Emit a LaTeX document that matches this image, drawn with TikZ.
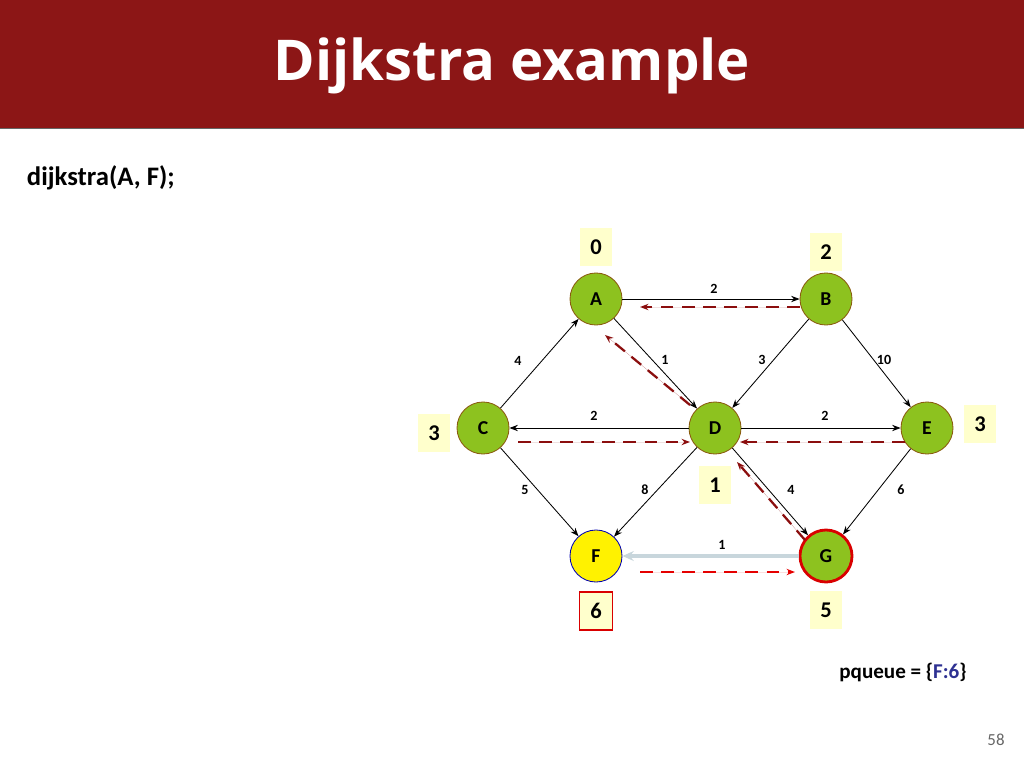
\documentclass[tikz,border=0pt]{standalone}
\usepackage{fontspec}
\setmainfont{Carlito}
\newfontfamily\titlefont{Open Sans}
\usetikzlibrary{arrows.meta,positioning}
\definecolor{barred}{HTML}{8C1616}
\definecolor{vgreen}{HTML}{8DC21F}
\definecolor{vborder}{HTML}{8A5A10}
\definecolor{distbg}{HTML}{FFFFCC}
\definecolor{pathred}{HTML}{8B0E0E}
\definecolor{qblue}{HTML}{2E3192}
\tikzset{>={Stealth[length=6pt,width=4.5pt]},
  vertex/.style={circle,draw=vborder,fill=vgreen,line width=0.6pt,minimum size=1.3cm,inner sep=0pt,font=\fontsize{14}{16}\selectfont\bfseries},
  dist/.style={fill=distbg,minimum width=0.82cm,minimum height=0.95cm,inner sep=0pt,font=\fontsize{16}{18}\selectfont\bfseries},
  wt/.style={font=\fontsize{10}{12}\selectfont\bfseries,inner sep=1pt},
  edge/.style={->,line width=0.6pt},
  back/.style={->,dashed,dash pattern=on 9pt off 6pt,line width=1.6pt,draw=pathred,fill=pathred}}

\begin{document}
\begin{tikzpicture}[x=0.025cm,y=-0.025cm]
    \useasboundingbox (0,0) rectangle (1024,768);
    \fill[barred] (0,0) rectangle (1024,128);
    \draw[black!60,line width=0.5pt] (0,128) -- (1024,128);
    \node (title) [text=white,font=\titlefont\fontsize{40}{48}\selectfont\bfseries] at (512,66) {Dijkstra example};
    \node (call) [anchor=west,font=\fontsize{19}{22}\selectfont\bfseries] at (22,178) {dijkstra(A, F);};

    % vertices
    \node (A) [vertex] at (596,299) {A};
    \node (B) [vertex] at (826,299) {B};
    \node (C) [vertex] at (483,428) {C};
    \node (D) [vertex] at (715,428) {D};
    \node (E) [vertex] at (927,428) {E};
    \node (F) [vertex,fill=yellow,draw=blue!70!black] at (596,556) {F};
    \node (G) [vertex,draw=red!85!black,line width=2pt] at (826,556) {G};

    % distances
    \node (dA) [dist] at (596,247) {0};
    \node (dB) [dist] at (826,252) {2};
    \node (dC) [dist] at (434,433) {3};
    \node (dE) [dist] at (980,424) {3};
    \node (dD) [dist] at (715,485) {1};
    \node (dF) [dist,draw=red!85!black,line width=0.8pt] at (596,611) {6};
    \node (dG) [dist] at (826,610) {5};

    % edges
    \draw[edge] (A) -- (B);
    \draw[edge] (A) -- (D);
    \draw[edge] (B) -- (D);
    \draw[edge] (B) -- (E);
    \draw[edge] (C) -- (A);
    \draw[edge] (D) -- (C);
    \draw[edge] (D) -- (E);
    \draw[edge] (C) -- (F);
    \draw[edge] (D) -- (F);
    \draw[edge] (D) -- (G);
    \draw[edge] (E) -- (G);
    \draw[edge,draw=cyan!25!gray!40,line width=2.2pt,-{Stealth[length=8pt,width=7pt]}] (G) -- (F);

    % weights
    \node (wAB) [wt] at (714,289) {2};
    \node (wCA) [wt] at (518,361) {4};
    \node (wAD) [wt] at (665,360) {1};
    \node (wBD) [wt] at (762,360) {3};
    \node (wBE) [wt] at (884,360) {10};
    \node (wDC) [wt] at (594,416) {2};
    \node (wDE) [wt] at (825,416) {2};
    \node (wCF) [wt] at (525,490) {5};
    \node (wDF) [wt] at (645,490) {8};
    \node (wDG) [wt] at (791,490) {4};
    \node (wEG) [wt] at (901,490) {6};
    \node (wGF) [wt] at (722,545) {1};

    % path arrows
    \coordinate (pBa) at (800,307); \coordinate (pBb) at (640,307);
    \coordinate (pDa) at (690,405); \coordinate (pDb) at (605,335);
    \coordinate (pCa) at (518,442); \coordinate (pCb) at (690,442);
    \coordinate (pEa) at (905,442); \coordinate (pEb) at (740,442);
    \coordinate (pGa) at (805,540); \coordinate (pGb) at (737,462);
    \coordinate (pFa) at (640,572); \coordinate (pFb) at (795,572);
    \draw[back] (pBa) -- (pBb);
    \draw[back] (pDa) -- (pDb);
    \draw[back] (pCa) -- (pCb);
    \draw[back] (pEa) -- (pEb);
    \draw[back] (pGa) -- (pGb);
    \draw[back,draw=red!90!black,fill=red!90!black] (pFa) -- (pFb);

    \node (pq) [font=\fontsize{15}{18}\selectfont\bfseries] at (903,672) {pqueue = \{\textcolor{qblue}{F:6}\}};
    \node (page) [text=black!60,font=\fontsize{12}{14}\selectfont] at (996,740) {58};
\end{tikzpicture}
\end{document}
